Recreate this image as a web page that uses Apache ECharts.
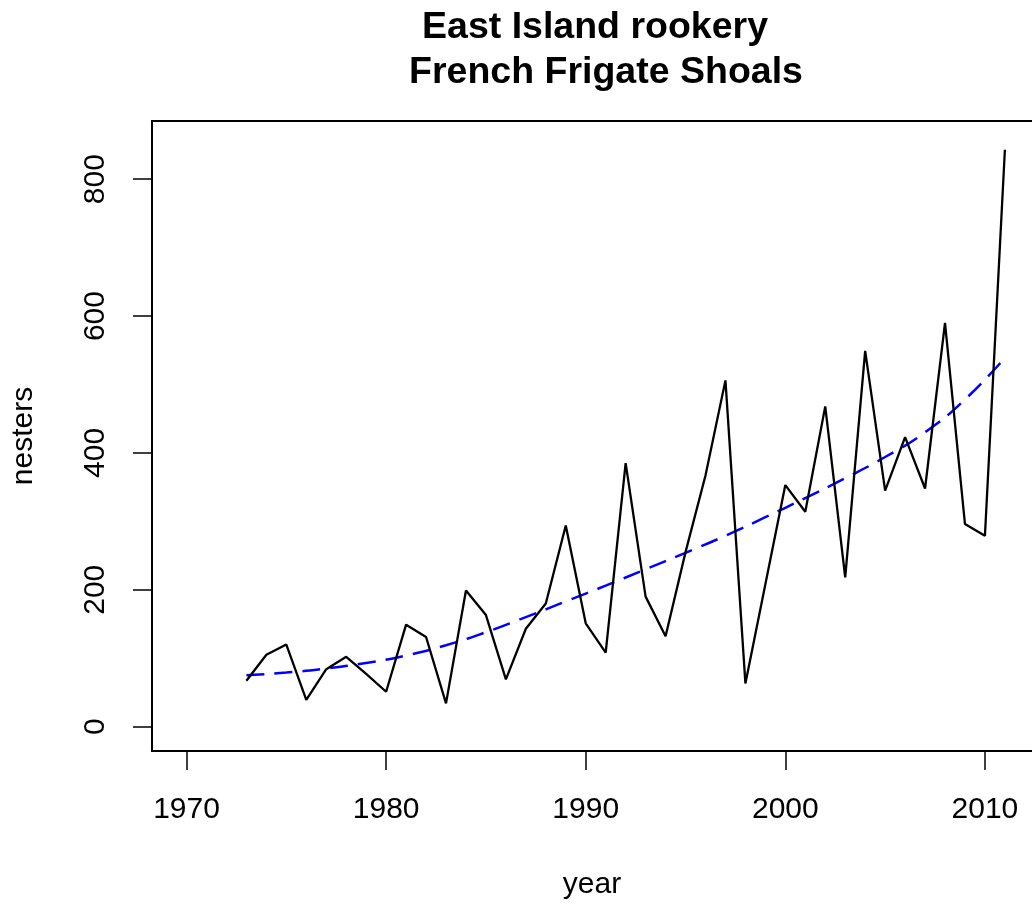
<!DOCTYPE html>
<html>
<head>
<meta charset="utf-8">
<script src="https://cdn.jsdelivr.net/npm/echarts@6/dist/echarts.min.js"></script>
<style>
html,body{margin:0;padding:0;background:#fff;}
#chart{width:1032px;height:905px;}
</style>
</head>
<body>
<div id="chart"></div>
<script>
// Data
var years = [1973,1974,1975,1976,1977,1978,1979,1980,1981,1982,1983,1984,1985,1986,1987,1988,1989,1990,1991,1992,1993,1994,1995,1996,1997,1998,1999,2000,2001,2002,2003,2004,2005,2006,2007,2008,2009,2010,2011];
var nesters = [67,105,120,39,84,102,77,51,149,131,34,199,163,69,143,180,294,151,108,385,190,132,255,367,506,63,208,353,314,468,218,549,345,423,348,590,296,279,843];
var trendYears = [1973,1975,1977,1979,1981,1983,1985,1987,1989,1991,1993,1995,1997,1999,2001,2003,2005,2007,2009,2011];
var trendValues = [75,79,85,93,104,119,138,160,183,206,230,254,279,306,334,363,394,430,478,539];
var xTicks = [1970,1980,1990,2000,2010];
var yTicks = [0,200,400,600,800];
var titleLine1 = 'East Island rookery';
var titleLine2 = 'French Frigate Shoals';

var FONT = '"Liberation Sans", Arial, Helvetica, sans-serif';
var chart = echarts.init(document.getElementById('chart'), null, {renderer:'canvas'});

function pairs(xs, ys){ return xs.map(function(x,i){ return [x, ys[i]]; }); }

var XMIN = 1968.27, XMAX = 1968.27 + 880/19.96;
var axisLineStyle = {color:'#000', width:2};

chart.setOption({
  animation: false,
  backgroundColor: '#ffffff',
  title: [
    {text: titleLine1, left: 590, textAlign: 'center', top: 4,
     textStyle:{fontFamily:FONT, fontWeight:'bold', fontSize:37.5, color:'#000'}},
    {text: titleLine2, left: 601, textAlign: 'center', top: 49,
     textStyle:{fontFamily:FONT, fontWeight:'bold', fontSize:37.5, color:'#000'}}
  ],
  grid: {left:152, top:121, right:0, bottom:150, show:false, containLabel:false},
  xAxis: [{
    type:'value', min:XMIN, max:XMAX, position:'bottom',
    name:'year', nameLocation:'middle', nameGap:119,
    nameTextStyle:{fontFamily:FONT, fontSize:30, color:'#000'},
    axisLine:{show:true, onZero:false, lineStyle:axisLineStyle},
    splitLine:{show:false},
    axisTick:{show:true, inside:false, length:19, customValues:xTicks, lineStyle:{color:'#000', width:1.5}},
    axisLabel:{show:true, margin:44, customValues:xTicks, fontFamily:FONT, fontSize:30, color:'#000',
      formatter:function(v){return String(v);}}
  },{
    type:'value', min:XMIN, max:XMAX, position:'top',
    axisLine:{show:true, onZero:false, lineStyle:axisLineStyle},
    splitLine:{show:false}, axisTick:{show:false}, axisLabel:{show:false}
  }],
  yAxis: {
    type:'value', min:-35.6, max:885,
    name:'nesters', nameLocation:'middle', nameGap:113, nameRotate:90,
    nameTextStyle:{fontFamily:FONT, fontSize:30, color:'#000'},
    axisLine:{show:true, onZero:false, lineStyle:axisLineStyle},
    splitLine:{show:false},
    axisTick:{show:true, inside:false, length:19, customValues:yTicks, lineStyle:{color:'#000', width:1.5}},
    axisLabel:{show:true, margin:41, rotate:90, customValues:yTicks, fontFamily:FONT, fontSize:30, color:'#000',
      formatter:function(v){return String(v);}}
  },
  series: [
    {type:'line', data:pairs(years, nesters), showSymbol:false, symbol:'none',
     lineStyle:{color:'#000', width:2.3}, z:3},
    {type:'line', data:pairs(trendYears, trendValues), showSymbol:false, symbol:'none', smooth:true,
     lineStyle:{color:'#0000ff', width:2.5, type:[18,10]}, z:2}
  ]
});
</script>
</body>
</html>
